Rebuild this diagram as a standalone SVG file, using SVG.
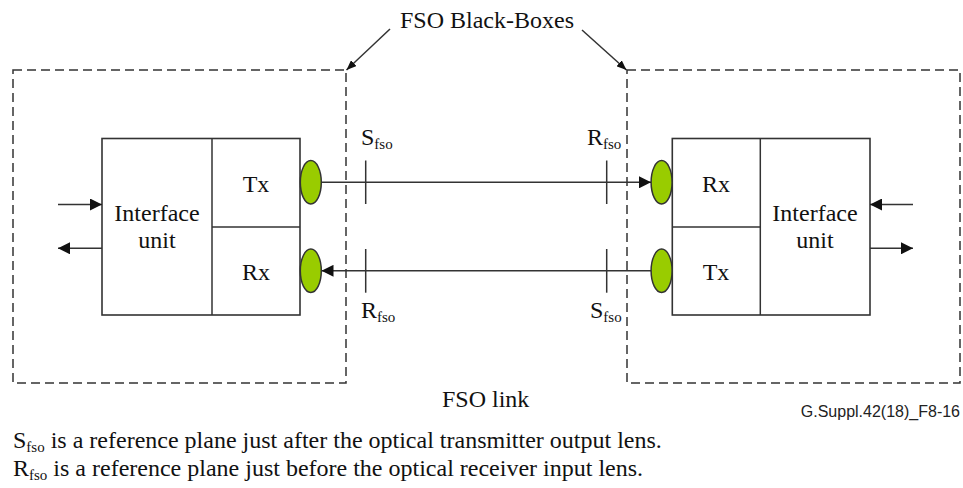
<svg xmlns="http://www.w3.org/2000/svg" width="963" height="488" viewBox="0 0 963 488">
<defs>
<style>
.t{font-family:"Liberation Serif","Times New Roman",serif;font-size:24px;fill:#111}
.s{font-size:15px}
.a{font-family:"Liberation Sans",Arial,sans-serif;font-size:16px;fill:#222}
.box{fill:#fff;stroke:#333;stroke-width:1.6}
.dash{fill:none;stroke:#333;stroke-width:1.5;stroke-dasharray:9 5}
.lens{fill:#99cc00;stroke:#333;stroke-width:1.5}
.ln{fill:none;stroke:#333;stroke-width:1.5}
</style>
<marker id="ah" markerUnits="userSpaceOnUse" markerWidth="12" markerHeight="12" refX="12" refY="6" orient="auto" viewBox="0 0 12 12">
<path d="M0,0 L12,6 L0,12 z" fill="#111"/>
</marker>
<marker id="ahs" markerUnits="userSpaceOnUse" markerWidth="10" markerHeight="8" refX="10" refY="4" orient="auto" viewBox="0 0 10 8">
<path d="M0,0 L10,4 L0,8 z" fill="#111"/>
</marker>
</defs>
<rect width="963" height="488" fill="#fff"/>

<g id="blackbox-left">
<rect class="dash" x="13" y="70" width="333" height="313"/>
</g>
<g id="blackbox-right">
<rect class="dash" x="627" y="70" width="333" height="313"/>
</g>

<g id="terminal-left">
<rect class="box" x="102" y="138.5" width="198" height="176.5"/>
<line class="ln" x1="212" y1="138.5" x2="212" y2="315"/>
<line class="ln" x1="212" y1="227" x2="300" y2="227"/>
<text class="t" x="157" y="220.5" text-anchor="middle">Interface</text>
<text class="t" x="157" y="247.5" text-anchor="middle">unit</text>
<text class="t" x="256" y="191.5" text-anchor="middle">Tx</text>
<text class="t" x="256" y="279.5" text-anchor="middle">Rx</text>
</g>
<g id="lens-left-tx"><ellipse class="lens" cx="310.8" cy="182.3" rx="10.5" ry="21.7"/></g>
<g id="lens-left-rx"><ellipse class="lens" cx="310.8" cy="270.8" rx="10.5" ry="21.7"/></g>

<g id="terminal-right">
<rect class="box" x="672.3" y="138.5" width="197.7" height="176.5"/>
<line class="ln" x1="760.3" y1="138.5" x2="760.3" y2="315"/>
<line class="ln" x1="672.3" y1="227" x2="760.3" y2="227"/>
<text class="t" x="815" y="220.5" text-anchor="middle">Interface</text>
<text class="t" x="815" y="247.5" text-anchor="middle">unit</text>
<text class="t" x="716" y="191.5" text-anchor="middle">Rx</text>
<text class="t" x="716" y="279.5" text-anchor="middle">Tx</text>
</g>
<g id="lens-right-rx"><ellipse class="lens" cx="661.6" cy="182.3" rx="10.5" ry="21.7"/></g>
<g id="lens-right-tx"><ellipse class="lens" cx="661.6" cy="270.8" rx="10.5" ry="21.7"/></g>

<g id="connectors">
<line class="ln" x1="321.3" y1="182.3" x2="651" y2="182.3" marker-end="url(#ah)"/>
<line class="ln" x1="651" y1="270.8" x2="321.5" y2="270.8" marker-end="url(#ah)"/>
<line class="ln" x1="58" y1="204.5" x2="102" y2="204.5" marker-end="url(#ah)"/>
<line class="ln" x1="102" y1="248.3" x2="58" y2="248.3" marker-end="url(#ah)"/>
<line class="ln" x1="913" y1="204.5" x2="870" y2="204.5" marker-end="url(#ah)"/>
<line class="ln" x1="870" y1="248.3" x2="913" y2="248.3" marker-end="url(#ah)"/>
<line class="ln" x1="390" y1="29" x2="346.5" y2="70" marker-end="url(#ahs)"/>
<line class="ln" x1="582" y1="30" x2="626.5" y2="70" marker-end="url(#ahs)"/>
</g>

<g id="reference-points">
<line class="ln" x1="365.7" y1="160.5" x2="365.7" y2="204"/>
<line class="ln" x1="606.7" y1="160.5" x2="606.7" y2="204"/>
<line class="ln" x1="365.7" y1="249" x2="365.7" y2="292.7"/>
<line class="ln" x1="606.7" y1="249" x2="606.7" y2="292.7"/>
<text class="t" x="361" y="145">S<tspan class="s" dy="3.5">fso</tspan></text>
<text class="t" x="587" y="145">R<tspan class="s" dy="3.5">fso</tspan></text>
<text class="t" x="361" y="318">R<tspan class="s" dy="3.5">fso</tspan></text>
<text class="t" x="590" y="318">S<tspan class="s" dy="3.5">fso</tspan></text>
</g>

<g id="labels">
<text class="t" x="400" y="28.3">FSO Black-Boxes</text>
<text class="t" x="442" y="406.5">FSO link</text>
<text class="a" x="960" y="416.7" text-anchor="end">G.Suppl.42(18)_F8-16</text>
<text class="t" x="13" y="448">S<tspan class="s" dy="4">fso</tspan><tspan dy="-4"> is a reference plane just after the optical transmitter output lens.</tspan></text>
<text class="t" x="13" y="476">R<tspan class="s" dy="4">fso</tspan><tspan dy="-4"> is a reference plane just before the optical receiver input lens.</tspan></text>
</g>
</svg>
